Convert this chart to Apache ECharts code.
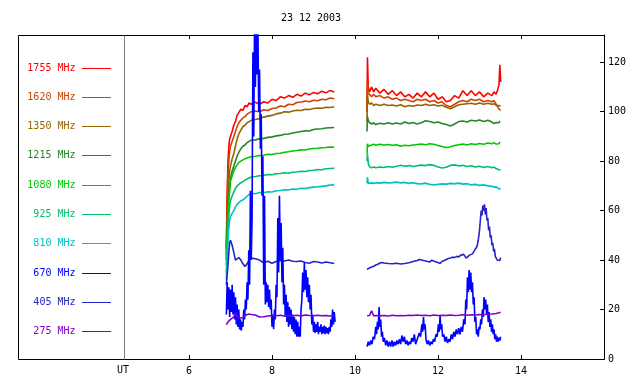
<!DOCTYPE html>
<html>
<head>
<meta charset="utf-8">
<script src="https://cdn.jsdelivr.net/npm/echarts@6/dist/echarts.min.js"></script>
<style>html,body{margin:0;padding:0;background:#fff}#c{width:640px;height:384px}</style>
</head>
<body>
<div id="c"></div>
<script>
const TITLE = '23 12 2003';
const X_TICKS = [6, 8, 10, 12, 14];
const Y_TICKS = [0, 20, 40, 60, 80, 100, 120];
const LABELS = ['1755 MHz','1620 MHz','1350 MHz','1215 MHz','1080 MHz','925 MHz','810 MHz','670 MHz','405 MHz','275 MHz'];
const COLORS = ['#ff0000','#cc4400','#946400','#268526','#00c800','#00bf6a','#00c0c0','#0000ff','#2424c8','#8000c8'];

// times (UT hours)
const t1 = [6.90,6.92,6.94,6.96,6.98,7.00,7.04,7.08,7.12,7.16,7.20,7.25,7.30,7.35,7.40,7.45,7.50,
  7.60,7.70,7.80,7.90,8.00,8.10,8.20,8.30,8.40,8.50,8.60,8.70,8.80,8.90,9.00,9.10,9.20,9.30,9.40,9.50];
const t2 = [10.29,10.30,10.32,10.35,10.40,10.45,10.50,
  10.60,10.70,10.80,10.90,11.00,11.10,11.20,11.30,11.40,11.50,
  11.60,11.70,11.80,11.90,12.00,12.10,12.20,12.30,12.40,12.50,
  12.60,12.70,12.80,12.90,13.00,13.10,13.20,13.30,
  13.35,13.40,13.44,13.47,13.49,13.51];

const f1755a = [45,68,80,86,89,90,92,94.5,96,98.5,99,101,100.5,102.5,102,103.5,103,
  103.8,103,104,103.5,105,104.5,106,105.5,106.5,105.8,107,106.3,107.5,106.8,107.8,107.2,108.3,107.6,108.6,108];
const f1755b = [100,122,110,108,110,108,109.5,
  107.5,109,107,108.5,106.5,108,106,107,105.5,107.5,
  106,108,106,107.5,105,106,104,104.5,106.5,105.5,
  108.5,106.5,108.5,106.5,108,106,107.5,106.5,
  108,107,109,111,119,112];
const f1620a = [44,62,74,80,84,86,88,90,92,94,95.5,96.5,97.5,98,99,99.5,100,
  100.3,100,100.8,100.5,101.3,101.5,102.3,102,103,102.8,103.7,103.9,104.3,104,104.6,104.4,105,104.8,105.5,105.2];
const f1620b = [100,112,107.5,107,106,107,106,
  106.5,105.5,106,105,105.5,104.5,105,104.5,104,105,
  104.5,105,104,104.5,103.5,104,102.5,102,103,104,
  104.5,104,105,104.5,105,104,104.5,104,
  104.5,103,102,101,101.5,100.5];
const f1350a = [42,56,66,72,76,78,81,83,86,89,91,92.5,94,94.5,95.5,96,96.5,
  96.8,97.2,97.8,98.2,98.5,99.1,99.4,100,99.8,100.3,100.6,100.5,101,100.9,101.3,101.5,101.4,101.8,101.7,102];
const f1350b = [96,107,104,103,103.5,102.5,103,
  102.5,103,102.5,102.7,102.3,102.8,102,102.5,102.2,102.7,
  102.5,103,102.5,102.8,102.3,102.6,101.8,101.2,102,102.8,
  103,103.2,103.4,103,103.5,103,103.4,103,
  103.2,102.5,102,102.5,102,102.3];
const f1215a = [40,52,60,66,70,73,76,78,80,82,83.5,85,86,86.5,87.5,88,88.5,
  88.6,89,89.2,89.6,89.8,90.2,90.4,90.9,91,91.4,91.7,92,92.3,92.2,92.8,93,93.1,93.4,93.5,93.6];
const f1215b = [92,98,96.5,95.5,95,95.5,94.8,
  95.3,95,95.5,95,95.4,95,95.8,95.2,95.6,95,
  95.5,96.3,96,95.5,95.8,95.2,94.8,94.2,95,96,
  96.2,95.8,96.5,96.2,96.6,96,96.5,95.8,
  95.2,95.6,96.2,95.5,96.3,95.8];
const f1080a = [38,50,58,64,68,72,74,76,77.5,78.5,79.5,80,80.5,81,81.3,81.6,81.8,
  82,82.3,82.4,82.8,82.7,83.1,83.2,83.6,83.8,84.1,84.3,84.6,84.5,84.9,85.1,85.2,85.4,85.5,85.7,85.6];
const f1080b = [83,87,86,86.1,86.5,86.8,86.4,
  86.8,86.5,86.7,86.4,86.6,86,86.4,86.2,86.5,86.7,
  86.9,86.6,87,86.8,86.3,85.9,85.5,85.8,86.3,86.6,
  86.9,86.5,87,86.7,87.1,86.8,87.3,87,
  87.5,86.9,87.6,87,87.8,87.2];
const f925a = [35,45,52,58,62,64,66,67.5,69,70,70.8,71.3,71.7,72.3,72.8,73.2,73.6,
  73.8,74.1,74.2,74.6,74.5,74.9,75,75.3,75.1,75.5,75.6,75.9,75.8,76.2,76.3,76.6,76.5,76.9,77,77.1];
const f925b = [80,83,79,77.8,77.3,77.6,77.3,
  77.6,77.4,77.8,77.5,77.9,78.3,77.9,78.2,77.8,78.1,
  78.4,78.2,78.6,78.3,77.6,77.2,77.5,78.3,78.5,78.1,
  78.3,77.8,78.1,77.6,77.9,77.4,77.8,77.3,
  77.6,77,77.3,76.5,76.8,76.4];
const f810a = [32,40,48,53,56,57.5,59,60,61.5,62.5,63.3,64,64.3,65,65.8,66.5,67,
  66.8,67.3,67.2,67.6,67.5,68,68.1,68.4,68.3,68.7,68.6,69,68.9,69.3,69.5,69.6,69.8,70,70.3,70.4];
const f810b = [71,73.5,71,70.8,71.2,71,71.3,
  71.1,71.4,71.2,71.3,71.5,71.2,71.4,71,71.3,70.9,
  70.8,71.1,70.6,70.4,70.6,70.8,70.7,71,70.8,71.1,
  70.7,70.9,70.4,70.6,70.2,70.4,70,69.8,
  69.5,69.6,69,68.8,68.3,68.6];
const f405a = [30,34,38,43,47,48,46,43,40,40.5,41,40,38.5,37.4,38.5,40,40.8,
  40.5,40,38.9,39.5,38.7,39.4,39.8,39.6,40,39.5,39.4,39.6,39,38.7,39.4,39.2,38.8,39.2,38.9,38.6];
const f405b = [[10.29,36.3],[10.35,36.8],[10.40,37.2],[10.45,37.5],[10.50,38],[10.55,38.3],[10.60,38.8],[10.65,39],
  [10.70,38.8],[10.80,38.6],[10.90,38.5],[11.00,38.7],[11.10,38.4],[11.20,38.6],[11.30,38.9],[11.40,39.4],
  [11.50,39.8],[11.55,40.2],[11.60,40],[11.70,39.6],[11.80,39.2],[11.85,40],[11.90,39.5],[12.00,39],
  [12.05,38.6],[12.10,39.5],[12.15,39.8],[12.20,40.2],[12.25,40.6],[12.30,40.8],[12.35,41.2],[12.40,41],
  [12.45,41.5],[12.50,41.3],[12.55,42],[12.58,42.8],[12.62,42.3],[12.65,41.5],[12.68,40.8],[12.72,41.5],
  [12.76,42],[12.80,42.2],[12.83,42.5],[12.86,43],[12.90,44.5],[12.94,45.5],[12.97,48],[13.00,52],
  [13.02,56],[13.04,60],[13.06,58],[13.08,62],[13.10,60],[13.12,62.5],[13.14,58.5],[13.16,61],
  [13.18,56],[13.20,57],[13.22,52],[13.24,53.5],[13.26,49],[13.28,50],[13.30,46],[13.32,47],
  [13.34,43.5],[13.36,44.5],[13.38,41.5],[13.40,42],[13.43,40],[13.46,40.5],[13.49,39.8],[13.51,41]];
const f275a = [13.9,14.5,15,15.3,15.5,16,16.5,17,18.7,17,16.5,16.6,16.8,17.5,18,18.2,18,
  17.8,17,17.1,17.4,17.6,17.5,17.7,17.4,17.6,17.5,17.7,17.4,17.8,17.6,17.5,17.7,17.5,17.6,17.4,17.6];
const f275b = [17.5,17.6,17.4,17.6,19.5,17.4,17.6,
  17.5,17.6,17.4,17.7,17.5,17.6,17.5,17.7,17.6,17.8,
  17.6,17.7,17.5,17.8,17.6,17.7,17.6,17.8,17.6,17.7,
  17.9,17.7,17.9,17.8,18,17.9,18.1,18.2,
  18.3,18.4,18.6,18.7,19,18.9];
const f670a = [[6.90,18],[6.92,31],[6.94,20],[6.96,29],[6.98,17],[7.00,28],[7.02,19],[7.04,30],[7.06,18],[7.08,27],
  [7.10,16],[7.12,25],[7.14,14],[7.16,22],[7.18,13],[7.20,20],[7.22,12],[7.24,16],[7.26,11.5],[7.28,15],
  [7.30,13],[7.32,20],[7.34,16],[7.36,24],[7.38,20],[7.40,31],[7.42,24],[7.44,44],[7.46,30],[7.48,68],
  [7.50,40],[7.52,57],[7.54,124],[7.56,90],[7.58,135],[7.60,110],[7.62,135],[7.64,115],[7.66,135],[7.68,100],
  [7.70,117],[7.72,85],[7.74,99],[7.76,66],[7.78,82],[7.80,30],[7.82,66],[7.84,22],[7.86,31],[7.88,23],
  [7.90,30],[7.92,21],[7.94,28],[7.96,20],[7.98,24],[8.00,13],[8.02,18],[8.04,12],[8.06,20],[8.08,16],
  [8.10,30],[8.12,25],[8.14,57],[8.16,35],[8.18,66],[8.20,40],[8.22,55],[8.24,31],[8.26,45],[8.28,22],
  [8.30,30],[8.32,17],[8.34,26],[8.36,15],[8.38,23],[8.40,13],[8.42,21],[8.44,14],[8.46,20],[8.48,12],
  [8.50,18],[8.52,11],[8.54,17],[8.56,10],[8.58,16],[8.60,9],[8.62,15],[8.64,9],[8.66,13],[8.68,9],
  [8.70,20],[8.72,24],[8.74,35],[8.76,27],[8.78,39],[8.80,28],[8.82,36],[8.84,25],[8.86,33],[8.88,23],
  [8.90,30],[8.92,20],[8.94,26],[8.96,14],[8.98,18],[9.00,11],[9.02,15],[9.04,10.5],[9.06,14],[9.08,11],
  [9.10,15],[9.12,10],[9.14,13],[9.16,11],[9.18,14],[9.20,10],[9.22,13],[9.24,10.5],[9.26,13.5],[9.28,10],
  [9.30,13],[9.32,10.5],[9.34,12.5],[9.36,10],[9.38,13],[9.40,11],[9.42,16],[9.44,13],[9.46,20],[9.48,14],
  [9.50,19],[9.52,15]];
const f670b = [[10.29,5],[10.32,7],[10.35,5.5],[10.38,7.5],[10.41,6],[10.44,9],[10.47,8],[10.50,13],[10.52,10],[10.54,15],
  [10.56,12],[10.58,21],[10.60,13],[10.62,16],[10.64,9],[10.66,11],[10.68,7],[10.71,8.5],[10.74,5.5],[10.77,7.5],
  [10.80,5],[10.83,7],[10.86,5],[10.89,7.5],[10.92,5],[10.95,7],[10.98,5.5],[11.01,7.5],[11.04,6],[11.07,8],
  [11.10,6],[11.13,9.5],[11.16,7],[11.19,9],[11.22,6],[11.25,7.5],[11.28,5.5],[11.31,7],[11.34,6],[11.37,8.5],
  [11.40,7],[11.43,10],[11.46,6],[11.49,7.5],[11.52,7],[11.55,10.5],[11.58,9],[11.61,14],[11.63,11],[11.65,17],
  [11.67,12],[11.69,14],[11.71,8],[11.74,6],[11.77,7.5],[11.80,5.5],[11.83,7],[11.86,6],[11.89,8],[11.92,7],
  [11.95,10],[11.98,9],[12.01,14],[12.03,11],[12.05,17.5],[12.07,12],[12.09,14],[12.11,9],[12.14,10],[12.17,7],
  [12.20,9],[12.23,6.5],[12.26,8],[12.29,7],[12.32,10],[12.35,8],[12.38,11],[12.41,9],[12.44,12],[12.47,10],
  [12.50,12.5],[12.53,10],[12.56,13],[12.59,11],[12.62,16],[12.65,14],[12.67,24],[12.69,20],[12.71,33],[12.73,27],
  [12.75,36],[12.77,28],[12.79,35],[12.81,27],[12.83,31],[12.85,22],[12.87,25],[12.89,15],[12.91,17],[12.93,10],
  [12.95,12],[12.97,9],[12.99,13],[13.01,12],[13.03,16],[13.05,14],[13.07,20],[13.09,17],[13.11,25],[13.13,20],
  [13.15,24],[13.17,18],[13.19,22],[13.21,15],[13.23,19],[13.25,13],[13.27,16],[13.29,11],[13.31,14],[13.33,10],
  [13.35,12],[13.37,8],[13.39,10],[13.41,7],[13.43,9],[13.45,7],[13.47,8.5],[13.49,7.5],[13.51,9]];

function zip(ts, vs) { return ts.map((t, i) => [t, vs[i]]); }
function join(a, b) { return a.concat([[9.9, '-']], b); }

const seriesData = {
  '1755 MHz': join(zip(t1, f1755a), zip(t2, f1755b)),
  '1620 MHz': join(zip(t1, f1620a), zip(t2, f1620b)),
  '1350 MHz': join(zip(t1, f1350a), zip(t2, f1350b)),
  '1215 MHz': join(zip(t1, f1215a), zip(t2, f1215b)),
  '1080 MHz': join(zip(t1, f1080a), zip(t2, f1080b)),
  '925 MHz': join(zip(t1, f925a), zip(t2, f925b)),
  '810 MHz': join(zip(t1, f810a), zip(t2, f810b)),
  '670 MHz': join(f670a, f670b),
  '405 MHz': join(zip(t1, f405a), f405b),
  '275 MHz': join(zip(t1, f275a), zip(t2, f275b))
};

const FONT = 'DejaVu Sans Mono';
const drawOrder = ['1755 MHz','1620 MHz','1350 MHz','1215 MHz','1080 MHz','925 MHz','810 MHz','405 MHz','670 MHz','275 MHz'];
const series = drawOrder.map(name => {
  const c = COLORS[LABELS.indexOf(name)];
  return {
    name: name, type: 'line', data: seriesData[name],
    showSymbol: false, symbol: 'none', connectNulls: false, clip: true,
    lineStyle: { color: c, width: 1.6 }, itemStyle: { color: c },
    emphasis: { disabled: true }, silent: true
  };
});

const graphic = [
  { type: 'rect', silent: true, z: 0, shape: { x: 18.5, y: 35.5, width: 586, height: 324 },
    style: { fill: null, stroke: '#000', lineWidth: 1 } },
  { type: 'line', silent: true, shape: { x1: 124.5, y1: 35.5, x2: 124.5, y2: 359.5 },
    style: { stroke: '#808080', lineWidth: 1 } },
  { type: 'text', silent: true, x: 311, y: 18,
    style: { text: TITLE, fill: '#000', fontFamily: FONT, fontSize: 10, align: 'center', verticalAlign: 'middle' } },
  { type: 'text', silent: true, x: 123, y: 370,
    style: { text: 'UT', fill: '#000', fontFamily: FONT, fontSize: 10, align: 'center', verticalAlign: 'middle' } }
];
LABELS.forEach((lab, i) => {
  const y = Math.round(67.7 + i * 29.26) + 0.5;
  graphic.push({ type: 'text', silent: true, x: 75.5, y: y,
    style: { text: lab, fill: COLORS[i], fontFamily: FONT, fontSize: 10, align: 'right', verticalAlign: 'middle' } });
  graphic.push({ type: 'line', silent: true, shape: { x1: 82, y1: y, x2: 111, y2: y },
    style: { stroke: COLORS[i], lineWidth: 1 } });
});

const xCommon = {
  type: 'value', min: 4.434, max: 16,
  axisLine: { show: false }, splitLine: { show: false }
};

const chart = echarts.init(document.getElementById('c'), null, { renderer: 'canvas' });
chart.setOption({
  animation: false,
  backgroundColor: '#fff',
  grid: { left: 124, right: 36, top: 35, bottom: 25, containLabel: false, outerBoundsMode: 'none' },
  xAxis: [
    Object.assign({}, xCommon, {
      position: 'bottom',
      axisTick: { show: true, inside: true, length: 4, customValues: X_TICKS, lineStyle: { color: '#000' } },
      axisLabel: { show: true, customValues: X_TICKS, margin: 7, color: '#000', fontFamily: FONT, fontSize: 10 }
    }),
    Object.assign({}, xCommon, {
      position: 'top',
      axisTick: { show: true, inside: true, length: 4, customValues: X_TICKS, lineStyle: { color: '#000' } },
      axisLabel: { show: false }
    })
  ],
  yAxis: {
    type: 'value', position: 'right', min: 0, max: 131,
    axisLine: { show: true, lineStyle: { color: '#000', width: 1 } },
    axisTick: { show: true, inside: true, length: 4, customValues: Y_TICKS, lineStyle: { color: '#000' } },
    axisLabel: { show: true, inside: false, customValues: Y_TICKS, margin: 4, color: '#000', fontFamily: FONT, fontSize: 10 },
    splitLine: { show: false }
  },
  tooltip: { show: false },
  series: series,
  graphic: graphic
});
</script>
</body>
</html>
